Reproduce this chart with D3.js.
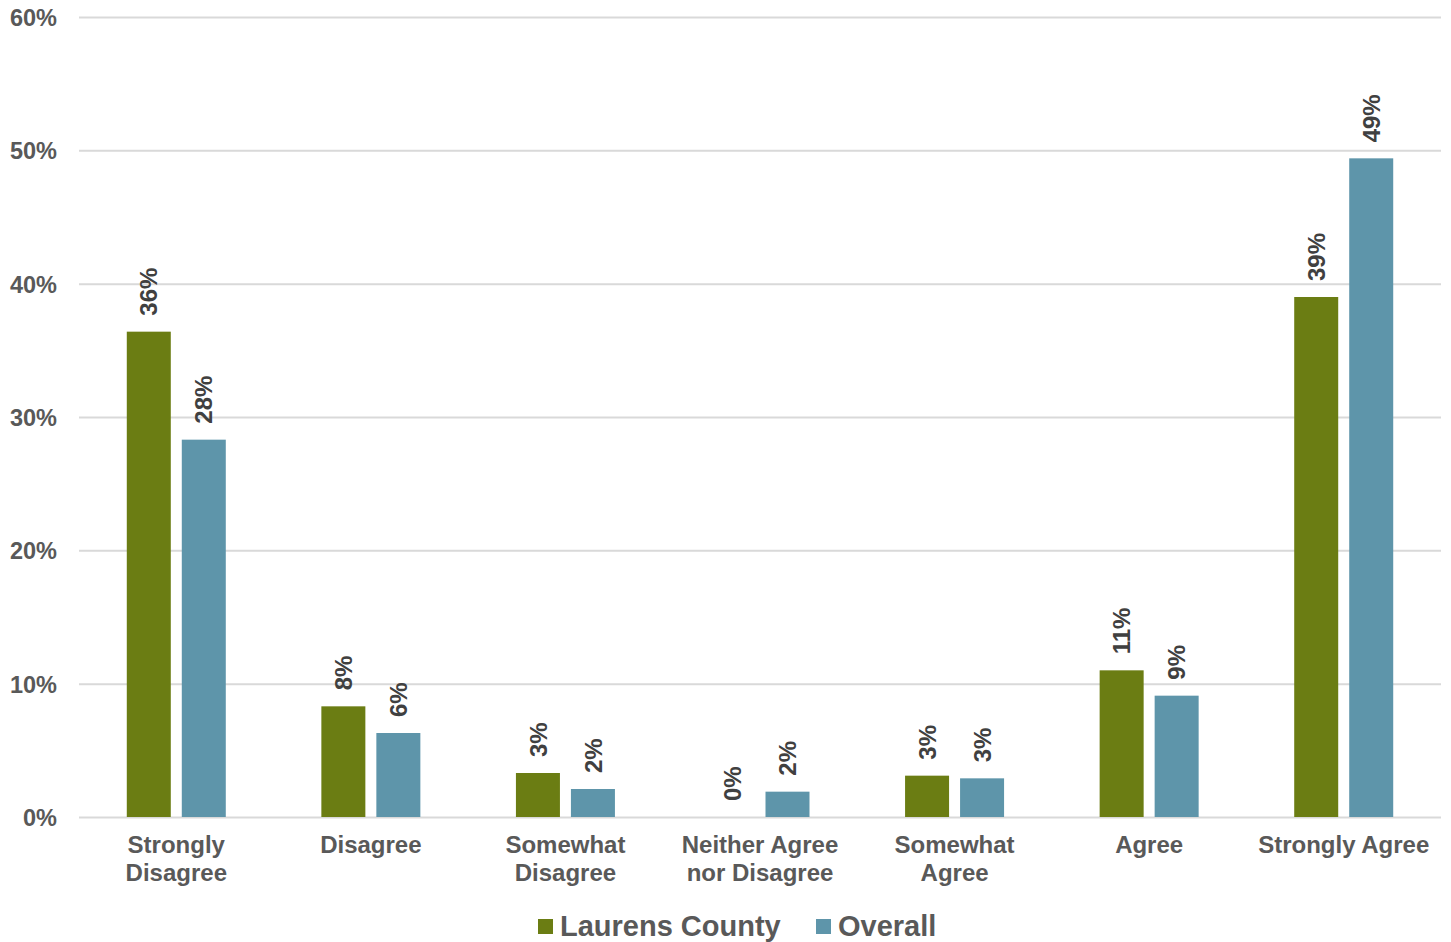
<!DOCTYPE html>
<html>
<head>
<meta charset="utf-8">
<script src="https://cdn.jsdelivr.net/npm/d3@7"></script>
<style>
  html, body { margin: 0; padding: 0; background: #ffffff; }
  svg { display: block; font-family: "Liberation Sans", Arial, sans-serif; font-weight: bold; }
</style>
</head>
<body>
<svg id="chart" width="1451" height="942"></svg>
<script>
const categories = ["Strongly Disagree", "Disagree", "Somewhat Disagree", "Neither Agree nor Disagree", "Somewhat Agree", "Agree", "Strongly Agree"];
const categoryLines = [["Strongly", "Disagree"], ["Disagree"], ["Somewhat", "Disagree"], ["Neither Agree", "nor Disagree"], ["Somewhat", "Agree"], ["Agree"], ["Strongly Agree"]];
const seriesNames = ["Laurens County", "Overall"];
const laurensValues = [36.4, 8.3, 3.3, 0, 3.1, 11.0, 39.0];
const overallValues = [28.3, 6.3, 2.1, 1.9, 2.9, 9.1, 49.4];
const valueLabels = [["36%", "8%", "3%", "0%", "3%", "11%", "39%"], ["28%", "6%", "2%", "2%", "3%", "9%", "49%"]];
const yTicks = [0, 10, 20, 30, 40, 50, 60];
const colors = ["#6b7d13", "#5e95aa"];

const svg = d3.select("#chart");
const plotLeft = 79, plotRight = 1441, plotTop = 17, plotBottom = 817;

const x = d3.scaleBand().domain(categories).range([plotLeft, plotRight]).paddingInner(0).paddingOuter(0);
const bw = x.bandwidth();
const xs = d3.scaleBand().domain(seriesNames).range([bw / 2 - 49.5, bw / 2 + 49.5]).paddingInner(0.2).paddingOuter(0);
const y = d3.scaleLinear().domain([0, 60]).range([plotBottom, plotTop]);

// Y axis with gridlines
const yAxis = svg.append("g")
  .attr("transform", `translate(${plotLeft},0)`)
  .call(d3.axisLeft(y).tickValues(yTicks).tickFormat(d => d + "%").tickSizeInner(-(plotRight - plotLeft)).tickSizeOuter(0).tickPadding(22));
yAxis.select(".domain").remove();
yAxis.selectAll(".tick line").attr("stroke", "#d9d9d9").attr("stroke-width", 2);
yAxis.selectAll(".tick text")
  .attr("fill", "#595959").attr("font-size", 23.5).attr("font-weight", "bold")
  .attr("font-family", "'Liberation Sans', Arial, sans-serif")
  .attr("dy", "0.36em");

// Bars
const seriesData = [laurensValues, overallValues];
seriesData.forEach((vals, si) => {
  const g = svg.append("g");
  g.selectAll("rect").data(vals).enter().append("rect")
    .attr("x", (d, i) => x(categories[i]) + xs(seriesNames[si]))
    .attr("width", xs.bandwidth())
    .attr("y", d => y(d))
    .attr("height", d => y(0) - y(d))
    .attr("fill", colors[si]);
  g.selectAll("text").data(vals).enter().append("text")
    .attr("transform", (d, i) => {
      const cx = x(categories[i]) + xs(seriesNames[si]) + xs.bandwidth() / 2;
      return `translate(${cx},${y(d) - 16}) rotate(-90)`;
    })
    .attr("text-anchor", "start")
    .attr("dy", "0.36em")
    .attr("fill", "#404040")
    .attr("font-size", 24)
    .text((d, i) => valueLabels[si][i]);
});

// X axis labels
const xAxis = svg.append("g")
  .attr("transform", `translate(0,${plotBottom})`)
  .call(d3.axisBottom(x).tickSize(0).tickPadding(0));
xAxis.select(".domain").remove();
xAxis.selectAll(".tick text").each(function(d, i) {
  const t = d3.select(this);
  t.text(null).attr("y", 0).attr("dy", null)
    .attr("fill", "#595959").attr("font-size", 24).attr("font-weight", "bold")
    .attr("font-family", "'Liberation Sans', Arial, sans-serif");
  categoryLines[i].forEach((line, li) => {
    t.append("tspan").attr("x", 0).attr("y", 36 + li * 28).text(line);
  });
});

// Legend
const legendItems = [{ name: seriesNames[0], color: colors[0], sx: 538, tx: 560 }, { name: seriesNames[1], color: colors[1], sx: 816, tx: 838 }];
const lg = svg.append("g");
legendItems.forEach(it => {
  lg.append("rect").attr("x", it.sx).attr("y", 919).attr("width", 15).attr("height", 15).attr("fill", it.color);
  lg.append("text").attr("x", it.tx).attr("y", 936).attr("fill", "#595959").attr("font-size", 29).text(it.name);
});
</script>
</body>
</html>
